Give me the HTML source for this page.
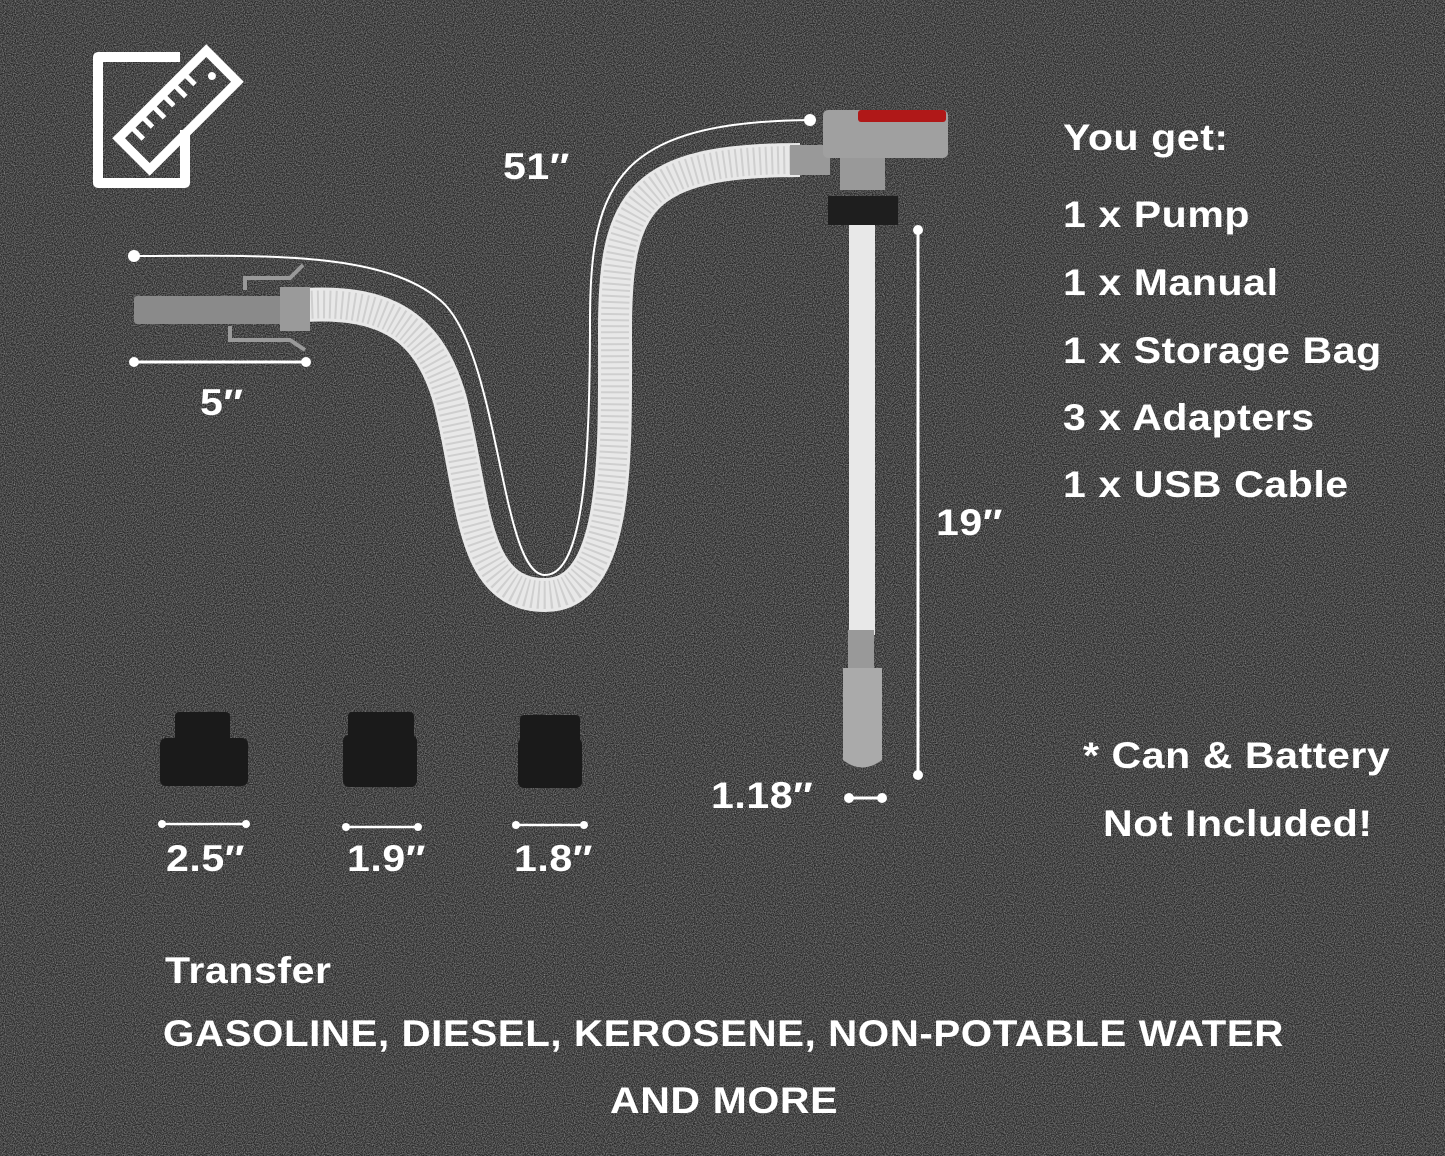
<!DOCTYPE html>
<html><head><meta charset="utf-8"><style>
html,body{margin:0;padding:0}
body{width:1445px;height:1156px;background:#333;position:relative;overflow:hidden;font-family:"Liberation Sans","DejaVu Sans",sans-serif;color:#fff;font-weight:bold}
.t{position:absolute;white-space:nowrap;font-size:37px;letter-spacing:0.5px;transform:scaleX(1.11);transform-origin:left top}
</style></head><body>
<svg width="1445" height="1156" style="position:absolute;left:0;top:0">
<defs>
<filter id="n"><feTurbulence type="fractalNoise" baseFrequency="0.9" numOctaves="2" seed="3"/><feColorMatrix values="0 0 0 0 0.6  0 0 0 0 0.6  0 0 0 0 0.6  0 0 0 1.6 -0.5"/></filter>
</defs>
<rect width="1445" height="1156" fill="#262626"/>
<rect width="1445" height="1156" filter="url(#n)" opacity="0.7"/>
<!-- icon -->
<path d="M180 57 H98 V183 H185 V130" fill="none" stroke="#fff" stroke-width="10" stroke-linejoin="round"/>
<g transform="translate(178,110) rotate(-45)"><rect x="-62" y="-22" width="124" height="44" fill="none" stroke="#fff" stroke-width="9"/>
<g stroke="#fff" stroke-width="5"><line x1="-45" y1="-18" x2="-45" y2="-4"/><line x1="-30" y1="-18" x2="-30" y2="-6"/><line x1="-15" y1="-18" x2="-15" y2="-4"/><line x1="0" y1="-18" x2="0" y2="-6"/><line x1="15" y1="-18" x2="15" y2="-4"/><line x1="30" y1="-18" x2="30" y2="-6"/></g><circle cx="48" cy="0" r="4" fill="#fff"/></g>
<!-- hose -->
<path d="M305 305 C390 300 430 330 450 400 C475 500 470 595 545 595 C620 595 615 450 615 330 C615 200 640 160 800 160" fill="none" stroke="#e8e8e8" stroke-width="34"/>
<path d="M305 305 C390 300 430 330 450 400 C475 500 470 595 545 595 C620 595 615 450 615 330 C615 200 640 160 800 160" fill="none" stroke="#cfcfcf" stroke-width="28" stroke-dasharray="2 4"/>
<!-- 51 line -->
<path d="M135 256 C260 256 380 250 440 300 C500 350 500 575 545 575 C585 575 590 450 590 320 C590 180 620 122 810 120" fill="none" stroke="#fff" stroke-width="2"/>
<circle cx="134" cy="256" r="6" fill="#fff"/><circle cx="810" cy="120" r="6" fill="#fff"/>
<!-- nozzle -->
<rect x="134" y="296" width="150" height="28" rx="3" fill="#8a8a8a"/>
<rect x="280" y="287" width="30" height="44" fill="#9a9a9a"/>
<path d="M245 290 L245 278 L290 278 L303 265" stroke="#999" stroke-width="4" fill="none"/>
<path d="M230 326 L230 340 L290 340 L305 350" stroke="#999" stroke-width="4" fill="none"/>
<line x1="134" y1="362" x2="306" y2="362" stroke="#fff" stroke-width="3"/><circle cx="134" cy="362" r="5" fill="#fff"/><circle cx="306" cy="362" r="5" fill="#fff"/>
<!-- pump head -->
<rect x="790" y="145" width="40" height="30" fill="#999"/>
<rect x="823" y="110" width="125" height="48" rx="5" fill="#a0a0a0"/>
<rect x="858" y="110" width="88" height="12" rx="3" fill="#b01818"/>
<rect x="840" y="158" width="45" height="32" fill="#999"/>
<path d="M828 196 H898 V225 H828 Z" fill="#1e1e1e"/>
<!-- tube -->
<rect x="849" y="225" width="26" height="410" fill="#e8e8e8"/>
<rect x="848" y="630" width="26" height="40" fill="#999"/>
<path d="M843 668 H882 V760 Q862 775 843 760 Z" fill="#aaa"/>
<line x1="918" y1="230" x2="918" y2="775" stroke="#fff" stroke-width="3"/><circle cx="918" cy="230" r="5" fill="#fff"/><circle cx="918" cy="775" r="5" fill="#fff"/>
<line x1="849" y1="798" x2="882" y2="798" stroke="#fff" stroke-width="3"/><circle cx="849" cy="798" r="5" fill="#fff"/><circle cx="882" cy="798" r="5" fill="#fff"/>
<!-- adapters -->
<g fill="#1a1a1a">
<rect x="175" y="712" width="55" height="30" rx="4"/><rect x="160" y="738" width="88" height="48" rx="6"/>
<rect x="348" y="712" width="66" height="28" rx="4"/><rect x="343" y="735" width="74" height="52" rx="6"/>
<rect x="520" y="715" width="60" height="28" rx="4"/><rect x="518" y="738" width="64" height="50" rx="6"/>
</g>
<g stroke="#fff" stroke-width="2.5"><line x1="162" y1="824" x2="246" y2="824"/><line x1="346" y1="827" x2="418" y2="827"/><line x1="516" y1="825" x2="584" y2="825"/></g>
<g fill="#fff"><circle cx="162" cy="824" r="4"/><circle cx="246" cy="824" r="4"/><circle cx="346" cy="827" r="4"/><circle cx="418" cy="827" r="4"/><circle cx="516" cy="825" r="4"/><circle cx="584" cy="825" r="4"/></g>
</svg>
<div class="t" style="left:503px;top:146px">51″</div>
<div class="t" style="left:200px;top:382px">5″</div>
<div class="t" style="left:936px;top:502px">19″</div>
<div class="t" style="left:711px;top:775px">1.18″</div>
<div class="t" style="left:166px;top:838px">2.5″</div>
<div class="t" style="left:347px;top:838px">1.9″</div>
<div class="t" style="left:514px;top:838px">1.8″</div>
<div class="t" style="left:1063px;top:117px">You get:</div>
<div class="t" style="left:1063px;top:194px">1 x Pump</div>
<div class="t" style="left:1063px;top:262px">1 x Manual</div>
<div class="t" style="left:1063px;top:330px">1 x Storage Bag</div>
<div class="t" style="left:1063px;top:397px">3 x Adapters</div>
<div class="t" style="left:1063px;top:464px">1 x USB Cable</div>
<div class="t" style="left:1083px;top:735px">* Can &amp; Battery</div>
<div class="t" style="left:1103px;top:803px">Not Included!</div>
<div class="t" style="left:165px;top:950px">Transfer</div>
<div class="t" style="left:163px;top:1013px;transform:scaleX(1.09)">GASOLINE, DIESEL, KEROSENE, NON-POTABLE WATER</div>
<div class="t" style="left:610px;top:1080px">AND MORE</div>
</body></html>
